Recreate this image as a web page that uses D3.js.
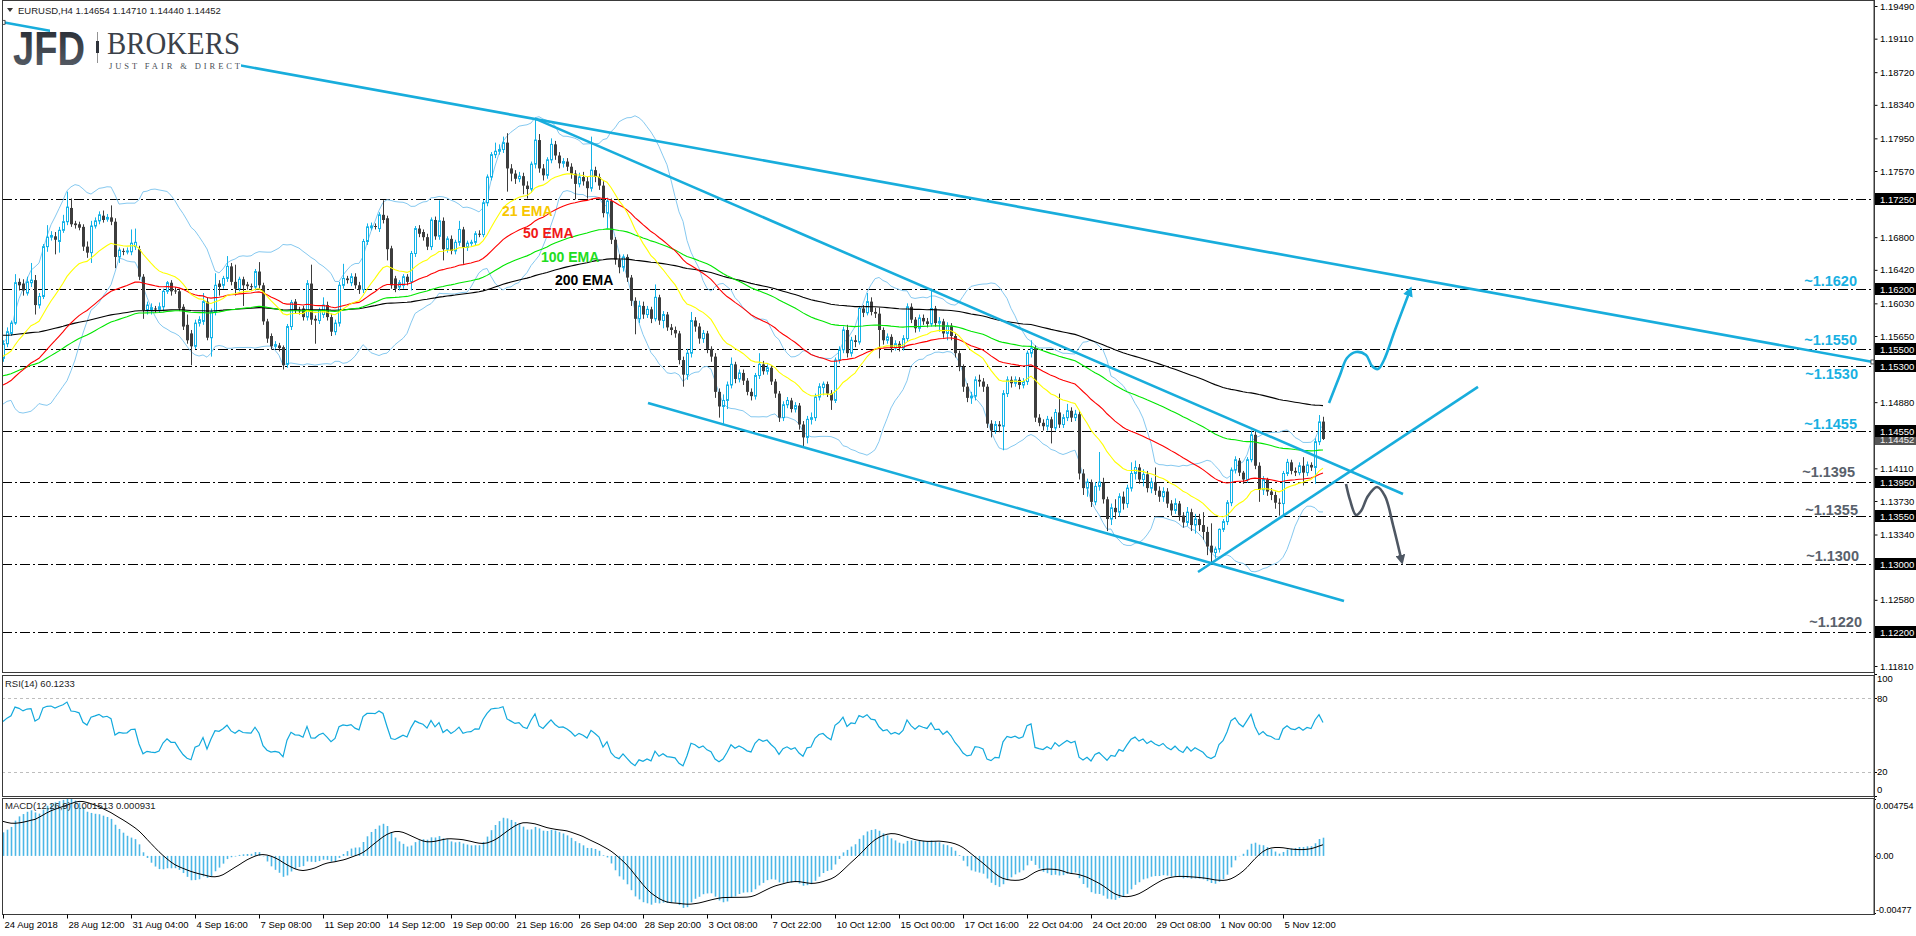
<!DOCTYPE html>
<html><head><meta charset="utf-8"><title>EURUSD H4</title>
<script src="https://cdn.jsdelivr.net/npm/d3@7/dist/d3.min.js"></script>
<style>
html,body{margin:0;padding:0;background:#fff;overflow:hidden}
svg{display:block;font-family:"Liberation Sans",Arial,sans-serif}
</style></head><body>
<svg id="chart" width="1916" height="936"></svg>
<script>
// ================= DATA =================
const titleSymbol = "EURUSD,H4";
const titleQuote = ["1.14654", "1.14710", "1.14440", "1.14452"];

// H4 candles [open, high, low, close], 24 Aug 2018 00:00 onward
const candles = [
[1.1539,1.1560,1.1535,1.1556],[1.1556,1.1575,1.1552,1.1570],[1.1568,1.1583,1.1565,1.1580],[1.1580,1.1637,1.1578,1.1627],
[1.1628,1.1632,1.1618,1.1624],[1.1626,1.1631,1.1612,1.1618],[1.1615,1.1634,1.1612,1.1628],[1.1627,1.1650,1.1622,1.1630],
[1.1630,1.1636,1.1590,1.1601],[1.1601,1.1615,1.1597,1.1611],[1.1611,1.1672,1.1608,1.1669],[1.1669,1.1694,1.1663,1.1680],
[1.1680,1.1687,1.1676,1.1682],[1.1681,1.1686,1.1660,1.1677],[1.1675,1.1692,1.1662,1.1688],[1.1688,1.1706,1.1685,1.1698],
[1.1698,1.1733,1.1694,1.1715],[1.1714,1.1725,1.1692,1.1695],[1.1696,1.1699,1.1690,1.1694],[1.1695,1.1698,1.1688,1.1691],
[1.1692,1.1695,1.1664,1.1669],[1.1669,1.1675,1.1656,1.1662],[1.1662,1.1699,1.1650,1.1693],[1.1693,1.1703,1.1690,1.1699],
[1.1699,1.1710,1.1695,1.1706],[1.1705,1.1711,1.1697,1.1700],[1.1701,1.1707,1.1698,1.1703],[1.1703,1.1717,1.1694,1.1698],
[1.1698,1.1702,1.1644,1.1657],[1.1657,1.1668,1.1650,1.1665],[1.1664,1.1667,1.1659,1.1663],[1.1663,1.1668,1.1660,1.1664],
[1.1663,1.1689,1.1659,1.1673],[1.1669,1.1690,1.1665,1.1674],[1.1666,1.1670,1.1630,1.1634],[1.1634,1.1637,1.1585,1.1595],
[1.1595,1.1605,1.1590,1.1601],[1.1595,1.1603,1.1590,1.1598],[1.1597,1.1600,1.1592,1.1596],[1.1596,1.1604,1.1592,1.1599],
[1.1599,1.1620,1.1595,1.1617],[1.1617,1.1629,1.1614,1.1627],[1.1627,1.1630,1.1612,1.1617],[1.1618,1.1622,1.1614,1.1617],
[1.1617,1.1620,1.1594,1.1597],[1.1599,1.1602,1.1572,1.1576],[1.1578,1.1590,1.1556,1.1560],[1.1568,1.1572,1.1531,1.1553],
[1.1553,1.1584,1.1550,1.1580],[1.1580,1.1588,1.1576,1.1584],[1.1582,1.1615,1.1578,1.1605],[1.1605,1.1610,1.1560,1.1563],
[1.1563,1.1597,1.1541,1.1593],[1.1593,1.1638,1.1589,1.1624],[1.1626,1.1630,1.1612,1.1622],[1.1624,1.1635,1.1620,1.1632],
[1.1632,1.1658,1.1628,1.1646],[1.1646,1.1650,1.1624,1.1628],[1.1628,1.1648,1.1612,1.1620],[1.1620,1.1634,1.1617,1.1631],
[1.1631,1.1634,1.1600,1.1624],[1.1625,1.1628,1.1619,1.1623],[1.1623,1.1626,1.1618,1.1622],[1.1622,1.1643,1.1618,1.1640],
[1.1640,1.1651,1.1620,1.1624],[1.1624,1.1627,1.1578,1.1582],[1.1582,1.1585,1.1557,1.1562],[1.1565,1.1568,1.1549,1.1553],
[1.1553,1.1559,1.1550,1.1555],[1.1554,1.1557,1.1547,1.1551],[1.1552,1.1554,1.1526,1.1531],[1.1532,1.1579,1.1528,1.1576],
[1.1576,1.1607,1.1572,1.1604],[1.1605,1.1608,1.1591,1.1595],[1.1595,1.1599,1.1590,1.1594],[1.1597,1.1600,1.1583,1.1587],
[1.1587,1.1630,1.1583,1.1626],[1.1626,1.1648,1.1578,1.1584],[1.1585,1.1589,1.1556,1.1583],[1.1583,1.1598,1.1579,1.1595],
[1.1590,1.1610,1.1586,1.1601],[1.1601,1.1605,1.1583,1.1587],[1.1587,1.1591,1.1565,1.1570],[1.1570,1.1584,1.1566,1.1580],
[1.1580,1.1628,1.1576,1.1624],[1.1624,1.1649,1.1620,1.1632],[1.1632,1.1635,1.1626,1.1630],[1.1627,1.1638,1.1623,1.1634],
[1.1634,1.1638,1.1620,1.1624],[1.1624,1.1628,1.1614,1.1619],[1.1619,1.1678,1.1615,1.1675],[1.1675,1.1696,1.1671,1.1692],
[1.1691,1.1697,1.1688,1.1693],[1.1693,1.1696,1.1689,1.1692],[1.1690,1.1709,1.1686,1.1706],[1.1706,1.1723,1.1696,1.1700],
[1.1702,1.1705,1.1653,1.1666],[1.1667,1.1670,1.1620,1.1624],[1.1632,1.1635,1.1616,1.1620],[1.1622,1.1630,1.1618,1.1627],
[1.1624,1.1637,1.1620,1.1634],[1.1634,1.1637,1.1624,1.1628],[1.1628,1.1664,1.1618,1.1661],[1.1661,1.1693,1.1657,1.1690],
[1.1690,1.1694,1.1680,1.1684],[1.1686,1.1689,1.1676,1.1680],[1.1680,1.1684,1.1665,1.1669],[1.1669,1.1703,1.1665,1.1700],
[1.1700,1.1704,1.1677,1.1681],[1.1681,1.1723,1.1677,1.1699],[1.1699,1.1703,1.1653,1.1666],[1.1666,1.1681,1.1662,1.1678],
[1.1678,1.1682,1.1660,1.1664],[1.1664,1.1677,1.1660,1.1674],[1.1674,1.1699,1.1670,1.1689],[1.1689,1.1692,1.1649,1.1668],
[1.1668,1.1676,1.1664,1.1673],[1.1673,1.1677,1.1670,1.1674],[1.1674,1.1687,1.1670,1.1684],[1.1684,1.1688,1.1680,1.1683],
[1.1683,1.1723,1.1680,1.1720],[1.1720,1.1753,1.1716,1.1750],[1.1750,1.1779,1.1746,1.1776],[1.1776,1.1790,1.1772,1.1780],
[1.1780,1.1788,1.1776,1.1782],[1.1782,1.1797,1.1778,1.1790],[1.1790,1.1801,1.1733,1.1760],[1.1760,1.1765,1.1745,1.1754],
[1.1754,1.1758,1.1742,1.1748],[1.1748,1.1756,1.1744,1.1751],[1.1751,1.1755,1.1730,1.1740],[1.1740,1.1745,1.1725,1.1736],
[1.1736,1.1768,1.1732,1.1765],[1.1765,1.1818,1.1760,1.1793],[1.1793,1.1800,1.1755,1.1760],[1.1760,1.1765,1.1746,1.1752],
[1.1752,1.1773,1.1748,1.1770],[1.1770,1.1795,1.1766,1.1788],[1.1788,1.1792,1.1770,1.1775],[1.1775,1.1779,1.1760,1.1766],
[1.1766,1.1772,1.1761,1.1768],[1.1768,1.1772,1.1757,1.1762],[1.1762,1.1766,1.1748,1.1754],[1.1754,1.1758,1.1724,1.1742],
[1.1742,1.1755,1.1738,1.1750],[1.1750,1.1756,1.1740,1.1745],[1.1745,1.1750,1.1725,1.1737],[1.1737,1.1797,1.1733,1.1758],
[1.1758,1.1762,1.1744,1.1750],[1.1750,1.1754,1.1735,1.1740],[1.1740,1.1745,1.1703,1.1708],[1.1708,1.1726,1.1690,1.1722],
[1.1722,1.1725,1.1672,1.1677],[1.1677,1.1680,1.1648,1.1654],[1.1654,1.1660,1.1638,1.1645],[1.1645,1.1660,1.1640,1.1657],
[1.1657,1.1660,1.1628,1.1633],[1.1633,1.1636,1.1600,1.1606],[1.1606,1.1610,1.1567,1.1585],[1.1585,1.1606,1.1580,1.1600],
[1.1600,1.1605,1.1585,1.1590],[1.1590,1.1600,1.1586,1.1596],[1.1596,1.1599,1.1580,1.1585],[1.1585,1.1625,1.1582,1.1610],
[1.1610,1.1613,1.1578,1.1583],[1.1583,1.1594,1.1574,1.1590],[1.1590,1.1593,1.1571,1.1575],[1.1575,1.1579,1.1566,1.1572],
[1.1572,1.1576,1.1563,1.1568],[1.1568,1.1571,1.1532,1.1537],[1.1537,1.1541,1.1506,1.1520],[1.1520,1.1550,1.1514,1.1545],
[1.1545,1.1593,1.1540,1.1583],[1.1583,1.1587,1.1570,1.1576],[1.1576,1.1580,1.1556,1.1562],[1.1562,1.1572,1.1557,1.1568],
[1.1568,1.1571,1.1545,1.1550],[1.1550,1.1553,1.1535,1.1541],[1.1541,1.1545,1.1493,1.1500],[1.1500,1.1504,1.1470,1.1483],
[1.1483,1.1497,1.1462,1.1490],[1.1490,1.1512,1.1480,1.1508],[1.1508,1.1540,1.1504,1.1532],[1.1532,1.1535,1.1510,1.1515],
[1.1515,1.1526,1.1511,1.1522],[1.1522,1.1526,1.1508,1.1513],[1.1513,1.1516,1.1496,1.1500],[1.1500,1.1504,1.1490,1.1495],
[1.1495,1.1522,1.1491,1.1519],[1.1519,1.1545,1.1515,1.1532],[1.1532,1.1536,1.1520,1.1524],[1.1524,1.1532,1.1520,1.1528],
[1.1528,1.1531,1.1508,1.1512],[1.1512,1.1515,1.1493,1.1498],[1.1498,1.1501,1.1465,1.1470],[1.1470,1.1489,1.1466,1.1485],
[1.1485,1.1494,1.1481,1.1490],[1.1490,1.1493,1.1476,1.1480],[1.1480,1.1488,1.1476,1.1484],[1.1484,1.1487,1.1456,1.1462],
[1.1462,1.1466,1.1437,1.1447],[1.1447,1.1472,1.1440,1.1468],[1.1468,1.1476,1.1462,1.1470],[1.1470,1.1498,1.1466,1.1494],
[1.1494,1.1510,1.1490,1.1506],[1.1505,1.1512,1.1496,1.1509],[1.1509,1.1512,1.1494,1.1498],[1.1498,1.1502,1.1479,1.1490],
[1.1490,1.1540,1.1487,1.1537],[1.1537,1.1553,1.1533,1.1549],[1.1549,1.1576,1.1545,1.1572],[1.1572,1.1578,1.1540,1.1545],
[1.1545,1.1564,1.1541,1.1560],[1.1560,1.1566,1.1552,1.1558],[1.1558,1.1600,1.1555,1.1597],[1.1597,1.1601,1.1587,1.1592],
[1.1592,1.1615,1.1589,1.1605],[1.1605,1.1610,1.1589,1.1593],[1.1593,1.1598,1.1586,1.1591],[1.1591,1.1598,1.1539,1.1572],
[1.1572,1.1575,1.1555,1.1560],[1.1560,1.1568,1.1556,1.1564],[1.1564,1.1567,1.1546,1.1551],[1.1551,1.1560,1.1548,1.1556],
[1.1556,1.1559,1.1547,1.1551],[1.1551,1.1566,1.1548,1.1562],[1.1562,1.1603,1.1558,1.1599],[1.1599,1.1603,1.1580,1.1584],
[1.1584,1.1587,1.1569,1.1574],[1.1574,1.1590,1.1570,1.1586],[1.1586,1.1590,1.1578,1.1582],[1.1582,1.1586,1.1575,1.1579],
[1.1579,1.1620,1.1576,1.1597],[1.1597,1.1600,1.1576,1.1580],[1.1580,1.1587,1.1570,1.1582],[1.1582,1.1585,1.1563,1.1568],
[1.1568,1.1581,1.1560,1.1577],[1.1577,1.1580,1.1560,1.1565],[1.1565,1.1568,1.1540,1.1545],[1.1545,1.1548,1.1524,1.1529],
[1.1529,1.1532,1.1500,1.1506],[1.1506,1.1510,1.1488,1.1493],[1.1493,1.1500,1.1486,1.1495],[1.1495,1.1518,1.1490,1.1514],
[1.1514,1.1520,1.1506,1.1512],[1.1512,1.1516,1.1500,1.1506],[1.1506,1.1509,1.1458,1.1463],[1.1463,1.1467,1.1447,1.1455],
[1.1455,1.1466,1.1451,1.1462],[1.1462,1.1466,1.1453,1.1460],[1.1460,1.1502,1.1432,1.1498],[1.1498,1.1518,1.1494,1.1514],
[1.1514,1.1518,1.1505,1.1510],[1.1510,1.1518,1.1506,1.1514],[1.1514,1.1517,1.1503,1.1508],[1.1508,1.1516,1.1504,1.1512],
[1.1512,1.1548,1.1508,1.1545],[1.1545,1.1560,1.1540,1.1551],[1.1551,1.1554,1.1465,1.1470],[1.1470,1.1474,1.1460,1.1464],
[1.1464,1.1468,1.1455,1.1460],[1.1460,1.1472,1.1455,1.1468],[1.1468,1.1471,1.1440,1.1458],[1.1458,1.1480,1.1455,1.1476],
[1.1476,1.1498,1.1458,1.1462],[1.1462,1.1474,1.1458,1.1470],[1.1470,1.1486,1.1466,1.1478],[1.1478,1.1482,1.1465,1.1470],
[1.1470,1.1479,1.1466,1.1474],[1.1474,1.1478,1.1398,1.1405],[1.1405,1.1410,1.1380,1.1388],[1.1388,1.1399,1.1378,1.1395],
[1.1395,1.1398,1.1366,1.1372],[1.1372,1.1395,1.1368,1.1390],[1.1390,1.1430,1.1385,1.1395],[1.1395,1.1400,1.1370,1.1375],
[1.1375,1.1378,1.1338,1.1352],[1.1352,1.1370,1.1345,1.1365],[1.1365,1.1375,1.1352,1.1360],[1.1360,1.1382,1.1355,1.1378],
[1.1378,1.1384,1.1363,1.1370],[1.1370,1.1392,1.1365,1.1388],[1.1388,1.1418,1.1384,1.1405],[1.1405,1.1420,1.1398,1.1412],
[1.1412,1.1416,1.1393,1.1398],[1.1398,1.1410,1.1390,1.1404],[1.1404,1.1408,1.1383,1.1388],[1.1388,1.1400,1.1382,1.1395],
[1.1395,1.1412,1.1380,1.1385],[1.1385,1.1390,1.1372,1.1378],[1.1378,1.1389,1.1372,1.1384],[1.1384,1.1388,1.1365,1.1370],
[1.1370,1.1374,1.1356,1.1362],[1.1362,1.1376,1.1358,1.1370],[1.1370,1.1373,1.1350,1.1356],[1.1356,1.1360,1.1342,1.1348],
[1.1348,1.1366,1.1344,1.1360],[1.1360,1.1364,1.1338,1.1345],[1.1345,1.1358,1.1335,1.1352],[1.1352,1.1358,1.1338,1.1345],
[1.1345,1.1360,1.1328,1.1337],[1.1337,1.1343,1.1310,1.1320],[1.1321,1.1347,1.1302,1.1313],[1.1313,1.1320,1.1306,1.1317],
[1.1317,1.1341,1.1313,1.1340],[1.1340,1.1352,1.1337,1.1349],[1.1349,1.1374,1.1345,1.1371],[1.1371,1.1412,1.1367,1.1409],
[1.1409,1.1425,1.1405,1.1421],[1.1420,1.1423,1.1402,1.1406],[1.1406,1.1408,1.1393,1.1398],[1.1398,1.1424,1.1394,1.1421],
[1.1421,1.1455,1.1418,1.1450],[1.1450,1.1456,1.1410,1.1414],[1.1414,1.1418,1.1372,1.1386],[1.1386,1.1402,1.1380,1.1398],
[1.1398,1.1400,1.1379,1.1384],[1.1384,1.1388,1.1374,1.1380],[1.1380,1.1384,1.1364,1.1371],[1.1371,1.1376,1.1356,1.1370],
[1.1370,1.1408,1.1356,1.1405],[1.1405,1.1422,1.1402,1.1418],[1.1418,1.1421,1.1404,1.1408],[1.1408,1.1412,1.1402,1.1406],
[1.1406,1.1418,1.1403,1.1414],[1.1414,1.1424,1.1391,1.1406],[1.1406,1.1419,1.1402,1.1415],[1.1415,1.1418,1.1408,1.1412],
[1.1412,1.1446,1.1393,1.1442],[1.1442,1.1473,1.1438,1.1465],[1.14654,1.14710,1.14440,1.14452]
];

// closes of the bars just before the first visible bar (Bollinger window warm-up)
const historyCloses = [1.1482,1.1490,1.1500,1.1508,1.1512,1.1505,1.1515,1.1522,1.1518,1.1525,1.1530,1.1526,1.1520,1.1528,1.1533,1.1538,1.1536,1.1542,1.1539];

const ema21Start = 1.1540, ema50Start = 1.1506, ema100Start = 1.1518, ema200Start = 1.1566;
const ema12Start = 1.1518, ema26Start = 1.1500, macdSignalStart = 0.0030;
const rsiGainStart = 0.0008, rsiLossStart = 0.0006;

// price-scale labels (the ones hidden under the level boxes are left out)
const priceTicks = [1.19490,1.19110,1.18720,1.18340,1.17950,1.17570,1.16800,1.16420,1.16030,1.15650,1.14880,1.14110,1.13730,1.13340,1.12580,1.11810];
const timeTickBars = [0,16,32,48,64,80,96,112,128,144,160,176,192,208,224,240,256,272,288,304,320];
const timeTickLabels = ["24 Aug 2018","28 Aug 12:00","31 Aug 04:00","4 Sep 16:00","7 Sep 08:00","11 Sep 20:00","14 Sep 12:00","19 Sep 00:00","21 Sep 16:00","26 Sep 04:00","28 Sep 20:00","3 Oct 08:00","7 Oct 22:00","10 Oct 12:00","15 Oct 00:00","17 Oct 16:00","22 Oct 04:00","24 Oct 20:00","29 Oct 08:00","1 Nov 00:00","5 Nov 12:00"];

const levelPrices = [1.1725,1.1620,1.1550,1.1530,1.1455,1.1395,1.1355,1.1300,1.1220];
const noteTexts = ["~1.1620","~1.1550","~1.1530","~1.1455","~1.1395","~1.1355","~1.1300","~1.1220"];
const notePrices = [1.1620,1.1550,1.1530,1.1455,1.1395,1.1355,1.1300,1.1220];
const noteKinds = ["up","up","up","up","down","down","down","down"];

const emaLabels = ["21 EMA","50 EMA","100 EMA","200 EMA"];
const emaLabelBars = [124.75,130,134.5,138];
const emaLabelPrices = [1.17046,1.16790,1.16511,1.16244];

// trend lines [[bar, price],[bar, price]]
const longTrend = [[0,1.1930],[467.5,1.15348]];
const channelTop = [[133,1.1818],[350,1.13812]];
const channelBottom = [[161.25,1.14870],[335.25,1.12567]];
const risingTrend = [[298.75,1.12904],[368.75,1.15057]];
// scenario arrows [bar, price]
const bullPath = [[331.5,1.14871],[334.25,1.15196],[336,1.15394],[338.25,1.15464],[340.75,1.15429],[342.25,1.15301],[343.75,1.15266],[345.25,1.15371],[348,1.15720],[351.5,1.16150]];
const bearPath = [[335.75,1.13928],[336.75,1.13742],[338.25,1.13567],[339.5,1.13614],[341.25,1.13788],[343.5,1.13893],[345.5,1.13788],[347.5,1.13451],[349.5,1.13067]];

const rsiLabel = "RSI(14) 60.1233";
const macdLabel = "MACD(12,26,9) 0.001513 0.000931";
const rsiLevels = [80,20];
const rsiAxisTicks = [100,80,20,0];
const macdAxisTicks = [0.004754,0,-0.00477];
const macdAxisText = ["0.004754","0.00","-0.00477"];

// ================= INDICATORS =================
const closes = candles.map(c => c[3]);
function emaSeries(vals, period, start){ const k = 2/(period+1); let e = start; return vals.map(v => (e += k*(v-e))); }
const ema21 = emaSeries(closes,21,ema21Start), ema50 = emaSeries(closes,50,ema50Start),
      ema100 = emaSeries(closes,100,ema100Start), ema200 = emaSeries(closes,200,ema200Start);
const allCl = historyCloses.concat(closes), H = historyCloses.length;
const bbUp = [], bbLo = [];
closes.forEach((c,i) => { const w = allCl.slice(i+H-19, i+H+1); const m = d3.mean(w); const sd = Math.sqrt(d3.mean(w, v => (v-m)*(v-m))); bbUp.push(m+2*sd); bbLo.push(m-2*sd); });
let ag = rsiGainStart, al = rsiLossStart, prevC = historyCloses[H-1];
const rsi = closes.map(c => { const ch = c - prevC; prevC = c; ag = (ag*13 + Math.max(ch,0))/14; al = (al*13 + Math.max(-ch,0))/14; return 100 - 100/(1 + ag/al); });
const e12 = emaSeries(closes,12,ema12Start), e26 = emaSeries(closes,26,ema26Start);
const macd = e12.map((v,i) => v - e26[i]);
const signal = macd.map((v,i) => { let s = 0; for (let j = i-8; j <= i; j++) s += (j >= 0 ? macd[j] : macdSignalStart); return s/9; });

// ================= DRAW =================
const svg = d3.select("#chart");
const W = 1916, AX = 1874;
const MAIN = {t:0, b:672}, RSIP = {t:675, b:796}, MACDP = {t:798, b:914};
const x = d3.scaleLinear().domain([0,330]).range([3,1323]);
const y = d3.scaleLinear().domain([1.1174,1.1956]).range([672,0]);
const yR = d3.scaleLinear().domain([0,100]).range([796,673.5]);
const yM = d3.scaleLinear().domain([-0.00477,0.004754]).range([913,799]);
const CY = "#18ADDC", CANDLE_UP = "#13B3E8", DARK = "#3d3d3d";

svg.append("rect").attr("width",W).attr("height",936).attr("fill","#fff");
const defs = svg.append("defs");
[["clipMain",MAIN],["clipRsi",RSIP],["clipMacd",MACDP]].forEach(([id,p]) => {
  defs.append("clipPath").attr("id",id).append("rect").attr("x",2).attr("y",p.t+1).attr("width",AX-2).attr("height",p.b-p.t-1);
});
const g1 = defs.append("linearGradient").attr("id","jfdGrad").attr("x1",0).attr("y1",0).attr("x2",0).attr("y2",1);
g1.append("stop").attr("offset","0%").attr("stop-color","#22272e");
g1.append("stop").attr("offset","100%").attr("stop-color","#5d646e");
function marker(id,color){
  defs.append("marker").attr("id",id).attr("viewBox","0 0 10 10").attr("refX",3).attr("refY",5)
    .attr("markerWidth",10).attr("markerHeight",10).attr("markerUnits","userSpaceOnUse").attr("orient","auto")
    .append("path").attr("d","M0,0 L10,5 L0,10 Z").attr("fill",color);
}
marker("arrUp",CY); marker("arrDn","#4e5763");

// ---- main panel ----
const main = svg.append("g").attr("clip-path","url(#clipMain)");
main.selectAll("line.lvl").data(levelPrices).join("line").attr("class","lvl")
  .attr("x1",2).attr("x2",AX).attr("y1",d => Math.round(y(d))+0.5).attr("y2",d => Math.round(y(d))+0.5)
  .attr("stroke","#000").attr("stroke-width",1).attr("stroke-dasharray","10,3,2,3");

const line = d3.line().x((d,i) => x(i)).y(d => y(d));
main.append("path").attr("d",line(bbUp)).attr("fill","none").attr("stroke","#86c9f0").attr("stroke-width",1);
main.append("path").attr("d",line(bbLo)).attr("fill","none").attr("stroke","#86c9f0").attr("stroke-width",1);

// candles
const cg = main.append("g");
candles.forEach((c,i) => {
  const X = Math.round(x(i)), up = c[3] >= c[0];
  cg.append("line").attr("x1",X+0.5).attr("x2",X+0.5).attr("y1",y(c[1])).attr("y2",y(c[2]))
    .attr("stroke", up ? CANDLE_UP : DARK).attr("stroke-width",1);
  const top = y(Math.max(c[0],c[3])), bot = y(Math.min(c[0],c[3]));
  if (up) {
    cg.append("rect").attr("x",X-0.5).attr("y",top).attr("width",2).attr("height",Math.max(bot-top,1))
      .attr("fill","#fff").attr("stroke",CANDLE_UP).attr("stroke-width",1);
  } else {
    cg.append("rect").attr("x",X-1).attr("y",top).attr("width",3).attr("height",Math.max(bot-top,1)).attr("fill",DARK);
  }
});

[[ema200,"#000000"],[ema100,"#00e600"],[ema50,"#ff0000"],[ema21,"#ffff00"]].forEach(([s,col]) => {
  main.append("path").attr("d",line(s)).attr("fill","none").attr("stroke",col).attr("stroke-width",1.1);
});

const seg = d3.line().x(d => x(d[0])).y(d => y(d[1]));
[longTrend,channelTop,channelBottom,risingTrend].forEach(t => {
  main.append("path").attr("d",seg(t)).attr("stroke",CY).attr("stroke-width",2.6).attr("fill","none");
});
longTrend.forEach(p => {
  main.append("rect").attr("x",x(p[0])-2).attr("y",y(p[1])-2).attr("width",4).attr("height",4)
    .attr("fill","#fff").attr("stroke","#333").attr("stroke-width",0.8);
});

const curve = d3.line().x(d => x(d[0])).y(d => y(d[1])).curve(d3.curveCatmullRom.alpha(0.5));
main.append("path").attr("d",curve(bullPath)).attr("fill","none").attr("stroke",CY).attr("stroke-width",2.6).attr("marker-end","url(#arrUp)");
main.append("path").attr("d",curve(bearPath)).attr("fill","none").attr("stroke","#4e5763").attr("stroke-width",2.6).attr("marker-end","url(#arrDn)");

// EMA labels
const emaCols = ["#f7c600","#f01818","#20dd20","#000"];
emaLabels.forEach((t,i) => {
  svg.append("text").attr("x",x(emaLabelBars[i])).attr("y",y(emaLabelPrices[i])).text(t)
    .attr("font-size",14).attr("font-weight","bold").attr("fill",emaCols[i]);
});

// level notes
const noteDy = [-3,-4,13,-2,-5,-1,-3,-5];
const noteRight = [1857,1857,1858,1857,1855,1858,1859,1862];
noteTexts.forEach((t,i) => {
  svg.append("text").attr("x",noteRight[i]).attr("y",Math.round(y(notePrices[i]))+noteDy[i]).text(t)
    .attr("text-anchor","end").attr("font-size",14.5).attr("font-weight","bold")
    .attr("fill",noteKinds[i] === "up" ? "#19b0e2" : "#59616b");
});

// logo (white plate hides the trend line behind it)
svg.append("rect").attr("x",50).attr("y",27).attr("width",191).attr("height",42).attr("fill","#fff");
svg.append("text").attr("x",13).attr("y",65).text("JFD").attr("font-size",48).attr("font-weight","bold")
  .attr("textLength",72).attr("lengthAdjust","spacingAndGlyphs").attr("fill","url(#jfdGrad)");
svg.append("line").attr("x1",97.5).attr("x2",97.5).attr("y1",32).attr("y2",63).attr("stroke","#777").attr("stroke-width",0.8);
svg.append("rect").attr("x",96).attr("y",41).attr("width",3).attr("height",12).attr("fill","#2f343b");
svg.append("text").attr("x",107).attr("y",54).text("BROKERS").attr("font-family","'Liberation Serif','DejaVu Serif',serif")
  .attr("font-size",31).attr("textLength",133).attr("lengthAdjust","spacingAndGlyphs").attr("fill","#3b4149");
svg.append("text").attr("x",109).attr("y",69).text("JUST FAIR & DIRECT").attr("font-family","'Liberation Serif','DejaVu Serif',serif")
  .attr("font-size",8.5).attr("textLength",131).attr("lengthAdjust","spacing").attr("fill","#4a4f57");

// title
svg.append("path").attr("d","M7,8 L13,8 L10,12 Z").attr("fill","#333");
svg.append("text").attr("x",18).attr("y",14).attr("font-size",9.5).attr("fill","#222")
  .text(titleSymbol + "  " + titleQuote.join(" "));

// ---- RSI panel ----
const rg = svg.append("g").attr("clip-path","url(#clipRsi)");
rsiLevels.forEach(v => rg.append("line").attr("x1",2).attr("x2",AX).attr("y1",Math.round(yR(v))+0.5).attr("y2",Math.round(yR(v))+0.5)
  .attr("stroke","#bdbdbd").attr("stroke-dasharray","3,3"));
rg.append("path").attr("d",d3.line().x((d,i) => x(i)).y(d => yR(d))(rsi)).attr("fill","none").attr("stroke","#12a9dd").attr("stroke-width",1.2);
svg.append("text").attr("x",5).attr("y",687).attr("font-size",9.5).attr("fill","#222").text(rsiLabel);

// ---- MACD panel ----
const mg = svg.append("g").attr("clip-path","url(#clipMacd)");
mg.selectAll("line.h").data(macd).join("line").attr("class","h")
  .attr("x1",(d,i) => Math.round(x(i))+0.5).attr("x2",(d,i) => Math.round(x(i))+0.5)
  .attr("y1",yM(0)).attr("y2",d => yM(d)).attr("stroke","#4cb7e6").attr("stroke-width",1.6);
mg.append("path").attr("d",d3.line().x((d,i) => x(i)).y(d => yM(d))(signal)).attr("fill","none").attr("stroke","#000").attr("stroke-width",1);
svg.append("text").attr("x",5).attr("y",809).attr("font-size",9.5).attr("fill","#222").text(macdLabel);

// ---- borders ----
[MAIN,RSIP,MACDP].forEach(p => {
  svg.append("rect").attr("x",2.5).attr("y",p.t+0.5).attr("width",AX-2.5).attr("height",p.b-p.t)
    .attr("fill","none").attr("stroke","#3a3a3a").attr("stroke-width",1);
});

// ---- price axis ----
const pAxis = svg.append("g").attr("transform",`translate(${AX+0.5},0)`)
  .call(d3.axisRight(y).tickValues(priceTicks).tickFormat(d3.format(".5f")).tickSize(3));
pAxis.select(".domain").remove();
pAxis.selectAll("text").attr("x",5.5).attr("font-size",9.5).attr("font-family","'Liberation Sans',Arial,sans-serif").attr("fill","#000");
pAxis.selectAll("line").attr("stroke","#000");

function box(v, bg, fg){
  const cy = Math.round(y(v));
  svg.append("rect").attr("x",AX+1).attr("y",cy-6).attr("width",W-AX-1).attr("height",12).attr("fill",bg);
  svg.append("text").attr("x",AX+6).attr("y",cy+3.5).attr("font-size",9.5).attr("fill",fg).text(d3.format(".5f")(v));
}
levelPrices.forEach(v => { const cy = Math.round(y(v)); svg.append("line").attr("x1",AX).attr("x2",AX+3).attr("y1",cy+0.5).attr("y2",cy+0.5).attr("stroke","#000"); });
box(closes[closes.length-1],"#555555","#f0f0f0");
levelPrices.forEach(v => box(v,"#000","#fff"));

// RSI axis
rsiAxisTicks.forEach(v => {
  const yy = Math.min(Math.max(yR(v),678), 789);
  svg.append("line").attr("x1",AX).attr("x2",AX+3).attr("y1",Math.round(yR(v))+0.5).attr("y2",Math.round(yR(v))+0.5).attr("stroke","#000");
  svg.append("text").attr("x",AX+3).attr("y",yy+3.5).attr("font-size",9.5).attr("fill","#000").text(v);
});
// MACD axis
macdAxisTicks.forEach((v,i) => {
  const yy = Math.min(Math.max(yM(v),805), 909);
  svg.append("line").attr("x1",AX).attr("x2",AX+2).attr("y1",Math.round(yM(v))+0.5).attr("y2",Math.round(yM(v))+0.5).attr("stroke","#000");
  svg.append("text").attr("x",AX+2).attr("y",yy+3.5).attr("font-size",9).attr("fill","#000").text(macdAxisText[i]);
});
svg.append("line").attr("x1",AX+0.5).attr("x2",AX+0.5).attr("y1",0).attr("y2",MACDP.b+1).attr("stroke","#3a3a3a");

// ---- time axis ----
const tAxis = svg.append("g").attr("transform",`translate(0,${MACDP.b+0.5})`)
  .call(d3.axisBottom(x).tickValues(timeTickBars).tickFormat((d,i) => timeTickLabels[i]).tickSize(4));
tAxis.select(".domain").remove();
tAxis.selectAll("line").attr("stroke","#000");
tAxis.selectAll("text").attr("text-anchor","start").attr("x",1).attr("y",7).attr("font-size",9.5)
  .attr("font-family","'Liberation Sans',Arial,sans-serif").attr("fill","#000");
</script>
</body></html>
